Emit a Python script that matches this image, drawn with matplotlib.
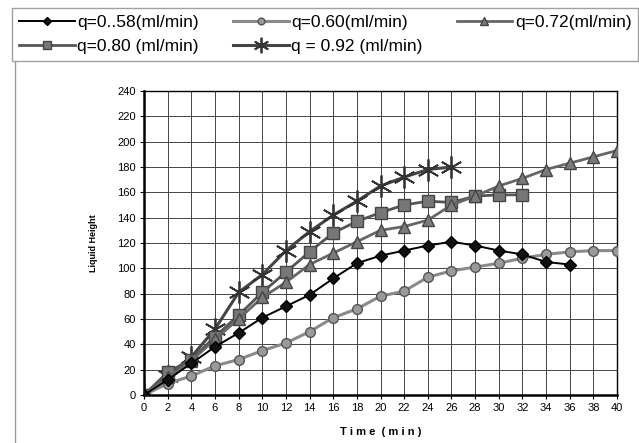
import matplotlib.pyplot as plt
from matplotlib.lines import Line2D

plt.rcParams['font.family'] = ['Liberation Sans', 'DejaVu Sans']

# Données
temps_058 = [0, 2, 4, 6, 8, 10, 12, 14, 16, 18, 20, 22, 24, 26, 28, 30, 32, 34, 36]
h_058 = [0, 12, 25, 38, 49, 61, 70, 79, 92, 104, 110, 114, 118, 121, 118, 114, 111, 105, 103]

temps_060 = [0, 2, 4, 6, 8, 10, 12, 14, 16, 18, 20, 22, 24, 26, 28, 30, 32, 34, 36, 38, 40]
h_060 = [0, 9, 15, 23, 28, 35, 41, 50, 61, 68, 78, 82, 93, 98, 101, 104, 108, 111, 113, 114, 114]

temps_072 = [0, 2, 4, 6, 8, 10, 12, 14, 16, 18, 20, 22, 24, 26, 28, 30, 32, 34, 36, 38, 40]
h_072 = [0, 14, 27, 44, 60, 77, 89, 103, 112, 121, 130, 133, 138, 150, 157, 165, 171, 178, 183, 188, 193]

temps_080 = [0, 2, 4, 6, 8, 10, 12, 14, 16, 18, 20, 22, 24, 26, 28, 30, 32]
h_080 = [0, 18, 28, 46, 63, 81, 97, 113, 128, 137, 144, 150, 153, 152, 157, 158, 158]

temps_092 = [0, 2, 4, 6, 8, 10, 12, 14, 16, 18, 20, 22, 24, 26]
h_092 = [0, 15, 30, 52, 81, 95, 114, 129, 142, 153, 165, 172, 178, 180]

labels = ["q=0..58(ml/min)", "q=0.60(ml/min)", "q=0.72(ml/min)",
          "q=0.80 (ml/min)", "q = 0.92 (ml/min)"]

fig = plt.figure(figsize=(6.39, 4.43), dpi=100)
ax = fig.add_axes([0.2254, 0.1084, 0.7402, 0.6862])

l1, = ax.plot(temps_058, h_058, color="black", lw=1.4, marker="D", ms=6,
              mfc="#111111", mec="black", zorder=6)
l2, = ax.plot(temps_060, h_060, color="#8a8a8a", lw=2.2, marker="o", ms=7,
              mfc="#9a9a9a", mec="#555555", zorder=5)
l3, = ax.plot(temps_072, h_072, color="#666666", lw=2.0, marker="^", ms=8,
              mfc="#7a7a7a", mec="#444444", zorder=4)
l4, = ax.plot(temps_080, h_080, color="#555555", lw=2.0, marker="s", ms=9,
              mfc="#777777", mec="#444444", zorder=3)
l5, = ax.plot(temps_092, h_092, color="#444444", lw=2.2, marker=(6, 2, 0), ms=16,
              mec="#333333", mew=1.3, zorder=2)

ax.set_xlim(0, 40)
ax.set_ylim(0, 240)
ax.set_xticks(range(0, 41, 2))
ax.set_yticks(range(0, 241, 20))
ax.tick_params(labelsize=8, length=3, pad=3)
ax.grid(True, color="#444444", lw=0.7)
for s in ["left", "bottom"]:
    ax.spines[s].set_linewidth(1.8)
for s in ["top", "right"]:
    ax.spines[s].set_linewidth(1.0)

ax.set_xlabel("T i m e  ( m i n )", fontsize=8, fontweight="bold", labelpad=10)
ax.set_ylabel("Liquid Height", fontsize=6.5, fontweight="bold", labelpad=14)

# Légende en haut, remplie ligne par ligne, colonnes réparties sur la largeur
handles = [l1, l4, l2, l5, l3]
noms = [labels[0], labels[3], labels[1], labels[4], labels[2]]
leg = fig.legend(handles, noms, loc="lower left",
                 bbox_to_anchor=(0.019, 0.862, 0.98, 0.128), mode="expand",
                 ncol=3, fontsize=12.5, handlelength=3.2, handletextpad=0.15,
                 labelspacing=0.5, borderaxespad=0,
                 fancybox=False, edgecolor="#888888", markerscale=0.7)
leg.get_frame().set_linewidth(1.0)

# Trait vertical du cadre scanné à gauche
fig.add_artist(Line2D([0.024, 0.024], [0.0, 0.86], color="#999999", lw=1.0))

fig.savefig("out.png", dpi=100)
